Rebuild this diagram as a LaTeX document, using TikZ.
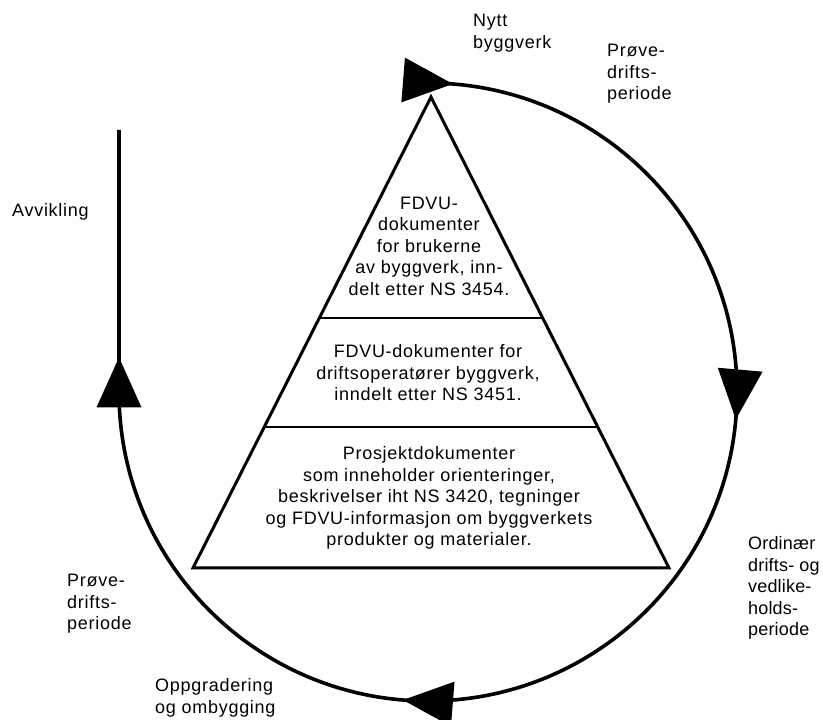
\documentclass[tikz,border=0pt]{standalone}
\usepackage{fontspec}
\setmainfont{Liberation Sans}[LetterSpace=4.0]
\usetikzlibrary{arrows.meta, calc, decorations.markings}

\begin{document}
\begin{tikzpicture}[x=1pt, y=1pt, font=\fontsize{18}{21.5}\selectfont,
  >={Triangle[length=50pt, width=44pt]},
  lbl/.style={align=left, inner sep=0pt, anchor=west},
  blk/.style={align=center, inner sep=0pt},
  cyc/.style={line width=3.6pt, postaction={decorate}},
  sep/.style={line width=1.8pt},
]
  \useasboundingbox (0,0) rectangle (823,720);
  % pyramid
  \coordinate (ctr) at (428,328);
  \coordinate (apex) at (431,623);
  \coordinate (bl) at (193,152);
  \coordinate (br) at (669,152);
  \draw[line width=3pt, line join=miter] (apex) -- (bl) -- (br) -- cycle;
  \draw[sep] ($(apex)!0.47!(bl)$) -- ($(apex)!0.47!(br)$);
  \draw[sep] ($(apex)!0.70!(bl)$) -- ($(apex)!0.70!(br)$);
  \node[blk] (users) at (429,474) {FDVU-\\dokumenter\\for brukerne\\av byggverk, inn-\\delt etter NS 3454.};
  \node[blk] (oper) at (428,347) {FDVU-dokumenter for\\driftsoperatører byggverk,\\inndelt etter NS 3451.};
  \node[blk] (proj) at (429,222) {Prosjektdokumenter\\som inneholder orienteringer,\\beskrivelser iht NS 3420, tegninger\\og FDVU-informasjon om byggverkets\\produkter og materialer.};
  % life cycle
  \coordinate (start) at ($(ctr)+(0,309)$);
  \coordinate (stop) at (119,590);
  \draw[cyc, decoration={markings,
      mark=at position 25pt with {\arrow{>}},
      mark=at position 513pt with {\arrow{>}},
      mark=at position 996pt with {\arrow{>}},
      mark=at position 1491pt with {\arrow{>}}}]
    (start) arc[start angle=90, end angle=-180, radius=309] -- (stop);
  \node[lbl] (new) at (473,687) {Nytt\\byggverk};
  \node[lbl] (trialA) at (607,646) {Prøve-\\drifts-\\periode};
  \node[lbl, font=\fontsize{18}{21.5}\selectfont\addfontfeatures{LetterSpace=1.0}] (ordin) at (748,132) {Ordinær\\drifts- og\\vedlike-\\holds-\\periode};
  \node[lbl] (upgr) at (155,22) {Oppgradering\\og ombygging};
  \node[lbl] (trialB) at (67,116) {Prøve-\\drifts-\\periode};
  \node[lbl] (decom) at (12,508) {Avvikling};
\end{tikzpicture}
\end{document}
